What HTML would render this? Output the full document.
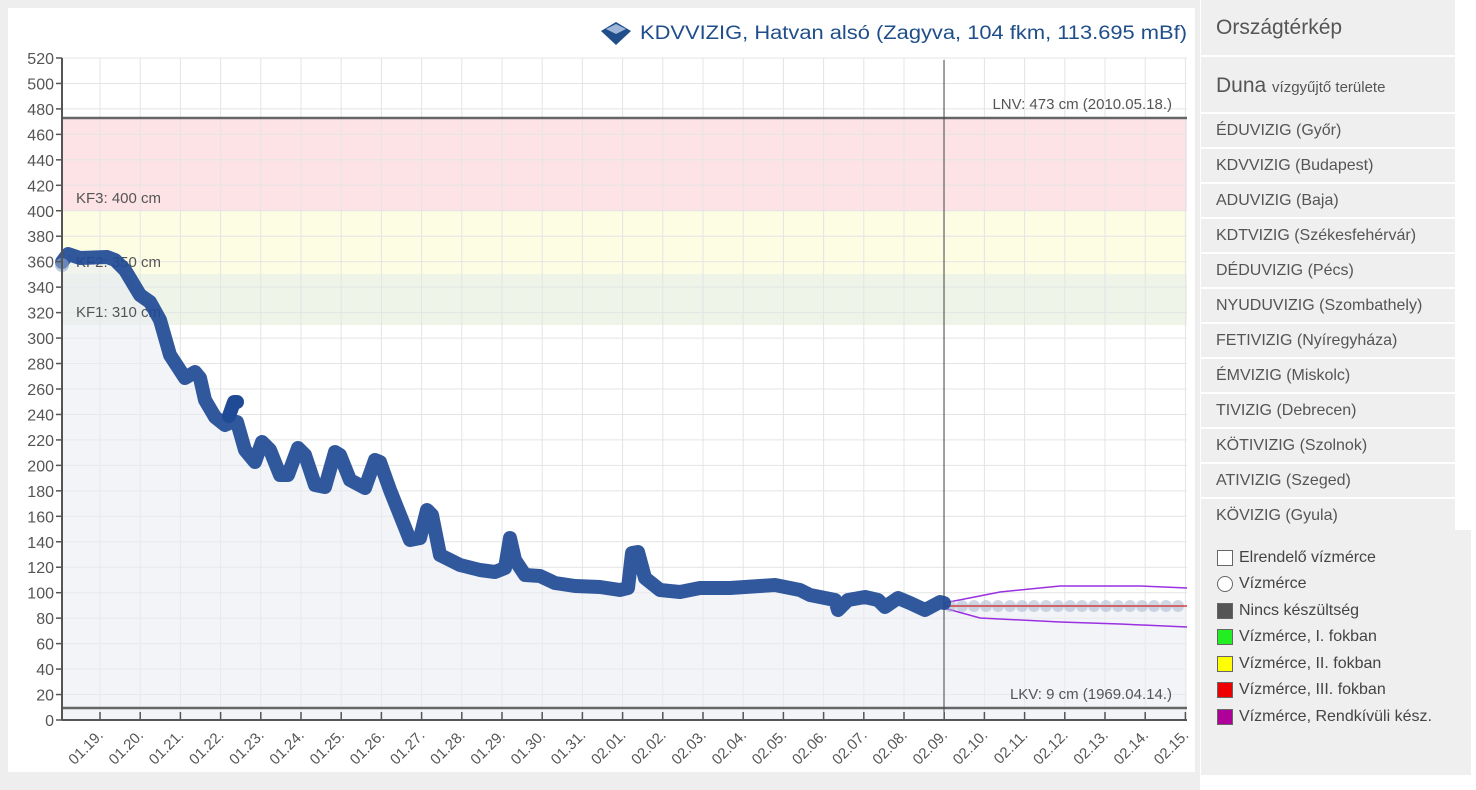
<!DOCTYPE html>
<html><head><meta charset="utf-8"><style>
body{margin:0;width:1476px;height:790px;background:#fff;overflow:hidden;font-family:"Liberation Sans",sans-serif;position:relative}
.bg{position:absolute;left:0;top:0;width:1200px;height:790px;background:#eeeeee}
.chart{position:absolute;left:8px;top:8px;width:1187px;height:764px;background:#fff}
svg{position:absolute;left:0;top:0}
.panel{position:absolute;left:1201px;top:0;width:254px;height:530px;background:#efefef}
.row{position:absolute;left:0;width:254px;border-bottom:2px solid #fff;color:#555;font-size:16px;padding-left:15px;box-sizing:border-box}
.leg{position:absolute;left:1201px;top:530px;width:270px;height:245px;background:#efefef}
.li{position:absolute;left:16px;font-size:16px;color:#444}
.sw{position:absolute;left:0;top:1px;width:14px;height:14px;border:1px solid #666}
</style></head><body>
<div class="bg"></div><div class="chart"></div>
<svg width="1200" height="790" font-family="Liberation Sans, sans-serif">
<rect x="62" y="118" width="1125" height="93" fill="#fde3e6"/>
<rect x="62" y="211" width="1125" height="63" fill="#fdfde4"/>
<rect x="62" y="274" width="1125" height="51" fill="#eef5e8"/>
<g stroke="#e4e4e4" stroke-width="1" id="grid"></g>
<path id="area" fill="#e9ecf4" fill-opacity="0.6"/>
<line x1="62" y1="118" x2="1187" y2="118" stroke="#666" stroke-width="2.5"/>
<line x1="62" y1="708" x2="1187" y2="708" stroke="#666" stroke-width="2.5"/>
<line x1="944" y1="60" x2="944" y2="720" stroke="#444" stroke-width="1"/>
<text x="76" y="203" font-size="15" fill="#555">KF3: 400 cm</text>
<text x="76" y="267" font-size="15" fill="#555">KF2: 350 cm</text>
<text x="76" y="317" font-size="15" fill="#555">KF1: 310 cm</text>
<text x="1172" y="109" font-size="15" fill="#555" text-anchor="end">LNV: 473 cm (2010.05.18.)</text>
<text x="1172" y="699" font-size="15" fill="#555" text-anchor="end">LKV: 9 cm (1969.04.14.)</text>
<polyline fill="none" stroke="#9b30e0" stroke-width="1.5" points="944,603 1000,592 1060,586 1140,586 1187,588"/>
<polyline fill="none" stroke="#9b30e0" stroke-width="1.5" points="944,608 980,618 1060,622 1120,624 1187,627"/>
<g id="dots" fill="#9fb0cc" fill-opacity="0.5"></g>
<line x1="944" y1="606" x2="1187" y2="606" stroke="#d04040" stroke-width="1.5"/>
<polyline id="ln" fill="none" stroke="#1f4a95" stroke-width="14" stroke-linejoin="round" stroke-linecap="round" stroke-opacity="0.92"/>
<polyline fill="none" stroke="#1f4a95" stroke-width="14" stroke-linecap="round" stroke-linejoin="round" points="229,416 234,402 237,402"/>
<circle cx="62" cy="265" r="7" fill="#8fa6cc" fill-opacity="0.6"/>
<line x1="62" y1="58" x2="62" y2="720" stroke="#555" stroke-width="2"/>
<line x1="62" y1="720" x2="1187" y2="720" stroke="#555" stroke-width="2"/>
<g id="yl" font-size="16" fill="#555" text-anchor="end"></g>
<g id="xl" font-size="15" fill="#555"></g>
<text x="640" y="39" font-size="19" fill="#1f4e8a" textLength="547" lengthAdjust="spacingAndGlyphs">KDVVIZIG, Hatvan alsó (Zagyva, 104 fkm, 113.695 mBf)</text>
<path d="M601,31 L616,22 L631,31 L616,45 Z" fill="#1f4e8a"/><path d="M606,29 L616,24 L626,29 L616,34Z" fill="#9fb6d8"/>
</svg>
<div class="panel">
<div class="row" style="top:0;height:57px;font-size:21px;line-height:56px">Országtérkép</div>
<div class="row" style="top:57px;height:57px;line-height:58px;font-size:21px">Duna <span style="font-size:15px">vízgyűjtő területe</span></div>
<div class="row" style="top:114px;height:35px;line-height:33px">ÉDUVIZIG (Győr)</div>
<div class="row" style="top:149px;height:35px;line-height:33px">KDVVIZIG (Budapest)</div>
<div class="row" style="top:184px;height:35px;line-height:33px">ADUVIZIG (Baja)</div>
<div class="row" style="top:219px;height:35px;line-height:33px">KDTVIZIG (Székesfehérvár)</div>
<div class="row" style="top:254px;height:35px;line-height:33px">DÉDUVIZIG (Pécs)</div>
<div class="row" style="top:289px;height:35px;line-height:33px">NYUDUVIZIG (Szombathely)</div>
<div class="row" style="top:324px;height:35px;line-height:33px">FETIVIZIG (Nyíregyháza)</div>
<div class="row" style="top:359px;height:35px;line-height:33px">ÉMVIZIG (Miskolc)</div>
<div class="row" style="top:394px;height:35px;line-height:33px">TIVIZIG (Debrecen)</div>
<div class="row" style="top:429px;height:35px;line-height:33px">KÖTIVIZIG (Szolnok)</div>
<div class="row" style="top:464px;height:35px;line-height:33px">ATIVIZIG (Szeged)</div>
<div class="row" style="top:499px;height:31px;line-height:33px;border:none">KÖVIZIG (Gyula)</div>
</div>
<div class="leg">
<div class="li" style="top:19px"><span class="sw" style="background:#fff"></span><span style="margin-left:22px">Elrendelő vízmérce</span></div>
<div class="li" style="top:45px"><span class="sw" style="border-radius:50%;background:#fff"></span><span style="margin-left:22px">Vízmérce</span></div>
<div class="li" style="top:72px"><span class="sw" style="background:#555"></span><span style="margin-left:22px">Nincs készültség</span></div>
<div class="li" style="top:98px"><span class="sw" style="background:#22ee22"></span><span style="margin-left:22px">Vízmérce, I. fokban</span></div>
<div class="li" style="top:125px"><span class="sw" style="background:#ffff00"></span><span style="margin-left:22px">Vízmérce, II. fokban</span></div>
<div class="li" style="top:151px"><span class="sw" style="background:#ee0000"></span><span style="margin-left:22px">Vízmérce, III. fokban</span></div>
<div class="li" style="top:178px"><span class="sw" style="background:#b0009a"></span><span style="margin-left:22px">Vízmérce, Rendkívüli kész.</span></div>
</div>
<script>
var ns="http://www.w3.org/2000/svg";
function el(t,a,p,tx){var e=document.createElementNS(ns,t);for(var k in a)e.setAttribute(k,a[k]);if(tx!==undefined)e.textContent=String(tx);document.getElementById(p).appendChild(e);}
for(var v=0;v<=520;v+=20){var y=720-v*1.2731;if(v>0)el('line',{x1:62,x2:1187,y1:y,y2:y},'grid');el('text',{x:54,y:y+6},'yl',v);el('line',{x1:56,x2:62,y1:y,y2:y,stroke:'#555','stroke-width':1.5},'yl');}
var labs=[];for(var d=19;d<=31;d++)labs.push('01.'+d+'.');for(var d=1;d<=15;d++)labs.push('02.'+(d<10?'0'+d:d)+'.');
labs.forEach(function(l,i){var x=100+i*40.2;el('line',{x1:x,x2:x,y1:58,y2:720},'grid');el('line',{x1:x,x2:x,y1:712,y2:720,stroke:'#555','stroke-width':1.5},'yl');el('text',{x:0,y:0,transform:'translate('+(x+4)+',736) rotate(-45)','text-anchor':'end'},'xl',l);});
var p="62,262 68,254 80,258 107,257 115,260 125,270 140,295 150,302 160,320 170,355 185,378 195,372 200,378 205,400 215,417 225,425 232,422 237,422 245,450 255,462 262,442 270,450 280,475 288,475 298,448 305,455 315,485 325,487 335,452 340,455 350,480 365,488 375,460 380,462 390,490 400,515 410,540 420,538 427,510 432,515 440,555 460,565 480,570 495,572 505,568 510,538 515,560 525,575 540,576 555,583 575,586 600,587 620,590 628,588 632,553 638,552 645,578 660,590 680,592 700,588 730,588 760,586 775,585 800,590 810,595 835,600 838,610 848,600 865,597 878,600 885,607 898,598 910,603 925,610 940,602 944,603";
document.getElementById('ln').setAttribute('points',p);
document.getElementById('area').setAttribute('d','M'+p.replace(/ /g,' L')+' L1187,606 L1187,720 L62,720 Z');
for(var x=950;x<1190;x+=12)el('circle',{cx:x,cy:606,r:6},'dots');
</script>
</body></html>
